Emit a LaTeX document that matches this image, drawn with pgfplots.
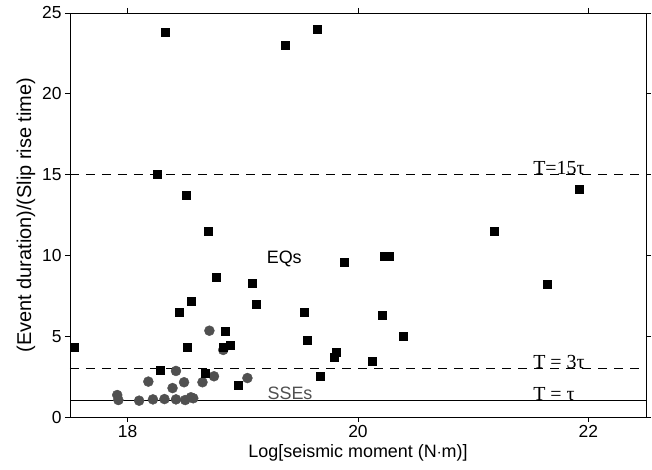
\documentclass[border=0pt]{standalone}
\usepackage{fontspec}
\setmainfont{Liberation Sans}
\newfontfamily\serifT{Liberation Serif}
\usepackage{pgfplots}
\pgfplotsset{compat=1.18}
\definecolor{sseg}{HTML}{505050}
\begin{document}
\begin{tikzpicture}
\useasboundingbox (-70bp,-53bp) rectangle (582bp,417bp);
\begin{axis}[
  scale only axis,
  width=576bp, height=404bp,
  xmin=17.5, xmax=22.5, ymin=0, ymax=25,
  xtick={18,20,22}, ytick={0,5,10,15,20,25},
  tick align=outside,
  major tick length=5bp,
  axis line style={line width=0.8pt},
  tick style={line width=0.8pt, black},
  /pgf/number format/assume math mode=true,
  tick label style={font=\fontsize{17.5}{17.5}\selectfont},
  label style={font=\fontsize{18}{18}\selectfont},
  ylabel style={font=\fontsize{20}{20}\selectfont},
  xlabel={Log[seismic moment (N$\cdot$m)]},
  ylabel={(Event duration)/(Slip rise time)},
  clip=false,
]
\addplot[black, line width=1.2pt, dash pattern=on 9bp off 7bp] coordinates {(17.5,15) (22.5,15)};
\addplot[black, line width=1.2pt, dash pattern=on 9bp off 7bp] coordinates {(17.5,3) (22.5,3)};
\addplot[black, line width=1.2pt] coordinates {(17.5,1) (22.5,1)};
\addplot[only marks, mark=*, mark size=5bp, color=sseg, mark options={fill=sseg, draw=sseg}] coordinates {
(18.71,5.34) (18.83,4.15) (18.42,2.85) (18.18,2.19) (18.49,2.15) (18.39,1.79)
(18.65,2.15) (18.75,2.52) (19.04,2.41) (17.91,1.36) (17.92,1.05) (18.10,1.01)
(18.22,1.09) (18.32,1.11) (18.42,1.09) (18.50,1.05) (18.55,1.22) (18.57,1.16)
};
\addplot[only marks, mark=square*, mark size=4bp, black] coordinates {
(17.54,4.3) (18.26,15.0) (18.28,2.9) (18.33,23.8) (18.45,6.5) (18.51,13.74)
(18.52,4.35) (18.55,7.18) (18.67,2.74) (18.70,11.5) (18.77,8.64) (18.83,4.35)
(18.85,5.32) (18.89,4.46) (18.96,1.98) (19.08,8.29) (19.12,6.97) (19.37,22.98)
(19.53,6.50) (19.56,4.76) (19.65,23.99) (19.67,2.52) (19.79,3.73) (19.81,4.0)
(19.88,9.57) (20.12,3.47) (20.21,6.29) (20.23,9.98) (20.27,9.98) (20.39,5.03)
(21.18,11.51) (21.64,8.23) (21.92,14.09)
};
\node[anchor=base west, font=\serifT\fontsize{20}{20}\selectfont, inner sep=0pt] at (axis cs:21.52,15) {T=15τ};
\node[anchor=base west, font=\serifT\fontsize{20}{20}\selectfont, inner sep=0pt] at (axis cs:21.52,3) {T = 3τ};
\node[anchor=base west, font=\serifT\fontsize{20}{20}\selectfont, inner sep=0pt] at (axis cs:21.52,1) {T = τ};
\node[anchor=base, font=\fontsize{18}{18}\selectfont, inner sep=0pt] at (axis cs:19.36,9.5) {EQs};
\node[anchor=base, font=\fontsize{18}{18}\selectfont, inner sep=0pt, text=sseg] at (axis cs:19.41,1.1) {SSEs};
\end{axis}
\end{tikzpicture}
\end{document}
